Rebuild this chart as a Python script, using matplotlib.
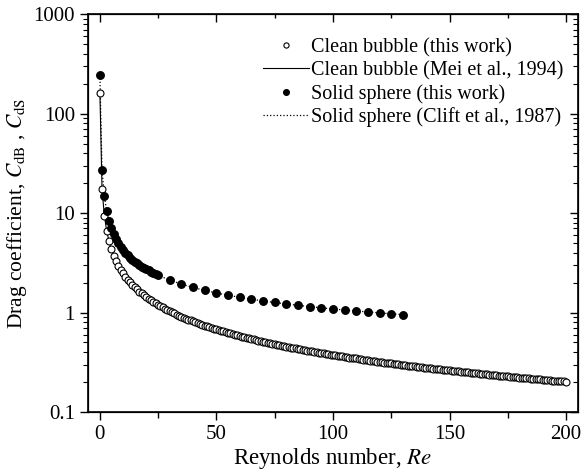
import matplotlib
matplotlib.use("Agg")
import matplotlib.pyplot as plt
from matplotlib.ticker import MultipleLocator, LogLocator, NullFormatter, FixedFormatter, FixedLocator

plt.rcParams['font.family'] = ['Liberation Serif', 'DejaVu Serif']
plt.rcParams['mathtext.fontset'] = 'stix'

# clean bubble, this work / Mei et al. (1994): Re = 0.1, then 1..200
re_bubble = [0.1] + list(range(1, 201))
cd_bubble = [161.9,
             17.57, 9.41, 6.63, 5.20, 4.33, 3.73, 3.29, 2.96, 2.69, 2.48,
             2.297, 2.144, 2.012, 1.898, 1.797, 1.707, 1.627, 1.555, 1.489, 1.430,
             1.375, 1.325, 1.279, 1.236, 1.196, 1.159, 1.124, 1.091, 1.061, 1.032,
             1.005, 0.979, 0.955, 0.932, 0.910, 0.890, 0.870, 0.851, 0.833, 0.816,
             0.799, 0.784, 0.768, 0.754, 0.740, 0.727, 0.714, 0.701, 0.689, 0.678,
             0.667, 0.656, 0.6455, 0.635, 0.6256, 0.616, 0.6071, 0.598, 0.5897, 0.581,
             0.5733, 0.566, 0.5579, 0.550, 0.5433, 0.536, 0.5294, 0.523, 0.5163, 0.510,
             0.5039, 0.498, 0.4920, 0.486, 0.4806, 0.475, 0.4699, 0.465, 0.4596, 0.455,
             0.4497, 0.445, 0.4405, 0.436, 0.4314, 0.427, 0.4228, 0.419, 0.4147, 0.411,
             0.4066, 0.403, 0.3989, 0.395, 0.3916, 0.388, 0.3845, 0.381, 0.3778, 0.375,
             0.3713, 0.368, 0.3649, 0.362, 0.3589, 0.356, 0.3529, 0.350, 0.3473, 0.345,
             0.3417, 0.339, 0.3365, 0.334, 0.3312, 0.329, 0.3264, 0.324, 0.3215, 0.319,
             0.3166, 0.314, 0.3122, 0.310, 0.3077, 0.306, 0.3034, 0.301, 0.2992, 0.297,
             0.2951, 0.293, 0.2912, 0.289, 0.2873, 0.286, 0.2837, 0.282, 0.2800, 0.278,
             0.2765, 0.275, 0.2730, 0.271, 0.2695, 0.268, 0.2662, 0.265, 0.2632, 0.262,
             0.2601, 0.259, 0.2570, 0.256, 0.2539, 0.253, 0.2510, 0.250, 0.2482, 0.247,
             0.2455, 0.244, 0.2428, 0.241, 0.2402, 0.239, 0.2375, 0.236, 0.2350, 0.234,
             0.2326, 0.231, 0.2301, 0.229, 0.2276, 0.227, 0.2254, 0.224, 0.2231, 0.222,
             0.2209, 0.220, 0.2186, 0.218, 0.2166, 0.216, 0.2145, 0.213, 0.2125, 0.211,
             0.2104, 0.209, 0.2084, 0.207, 0.2065, 0.206, 0.2045, 0.204, 0.2026, 0.202]

# solid sphere, this work / Clift et al. (1987)
re_sphere = [0.1, 1, 2, 3, 4, 5, 6, 7, 8, 9, 10, 11, 12, 13, 14, 15, 16, 17, 18, 19, 20,
             21, 22, 23, 24, 25, 30, 35, 40, 45, 50, 55, 60, 65, 70, 75, 80, 85, 90,
             95, 100, 105, 110, 115, 120, 125, 130]
cd_sphere = [244.3, 27.16, 14.76, 10.52, 8.36, 7.03, 6.13, 5.48, 4.98, 4.58, 4.26, 3.99, 3.76, 3.57, 3.40,
             3.25, 3.12, 3.00, 2.90, 2.80, 2.715, 2.651, 2.573, 2.502, 2.435, 2.374, 2.122, 1.934, 1.788,
             1.671, 1.574, 1.493, 1.423, 1.362, 1.309, 1.262, 1.220, 1.182, 1.147, 1.116, 1.087, 1.060,
             1.036, 1.013, 0.992, 0.972, 0.953]

fig = plt.figure(figsize=(5.81, 4.73), dpi=100)
ax = fig.add_axes([0.1515, 0.129, 0.843, 0.841])

ax.plot(re_bubble, cd_bubble, 'o', mfc='white', mec='black', ms=5.0, mew=0.8,
        label='Clean bubble (this work)', zorder=3)
ax.plot(re_bubble, cd_bubble, '-', color='black', lw=0.8,
        label='Clean bubble (Mei et al., 1994)', zorder=2)
ax.plot(re_sphere, cd_sphere, 'o', mfc='black', mec='black', ms=5.4,
        label='Solid sphere (this work)', zorder=3)
ax.plot(re_sphere, cd_sphere, ':', color='black', lw=0.9,
        label='Solid sphere (Clift et al., 1987)', zorder=2)

ax.set_yscale('log')
ax.set_xlim(-5, 205)
ax.set_ylim(0.1, 1000)
ax.xaxis.set_major_locator(MultipleLocator(50))
ax.xaxis.set_minor_locator(MultipleLocator(25))
ax.yaxis.set_major_locator(FixedLocator([0.1, 1, 10, 100, 1000]))
ax.yaxis.set_major_formatter(FixedFormatter(['0.1', '1', '10', '100', '1000']))
ax.yaxis.set_minor_locator(LogLocator(base=10, subs=range(2, 10)))
ax.yaxis.set_minor_formatter(NullFormatter())

ax.tick_params(axis='both', which='major', direction='out', length=6, width=1, labelsize=15,
               top=False, right=False)
ax.tick_params(axis='x', which='minor', direction='out', length=4, width=1, top=False)
ax.tick_params(axis='y', which='minor', direction='out', length=3.5, width=0.8, right=False)
for sp in ax.spines.values():
    sp.set_linewidth(1.2)

# top and right axes carry inward ticks
axt = ax.twiny()
axt.set_xlim(ax.get_xlim())
axt.xaxis.set_major_locator(MultipleLocator(50))
axt.xaxis.set_minor_locator(MultipleLocator(25))
axt.tick_params(axis='x', which='major', direction='in', length=6, width=1, labeltop=False)
axt.tick_params(axis='x', which='minor', direction='in', length=3, width=1)
axr = ax.twinx()
axr.set_yscale('log')
axr.set_ylim(ax.get_ylim())
axr.yaxis.set_major_locator(FixedLocator([0.1, 1, 10, 100, 1000]))
axr.yaxis.set_minor_locator(LogLocator(base=10, subs=range(2, 10)))
axr.tick_params(axis='y', which='major', direction='in', length=6, width=1, labelright=False)
axr.tick_params(axis='y', which='minor', direction='in', length=3.5, width=0.8, labelright=False)
axr.yaxis.set_minor_formatter(NullFormatter())

ax.set_xlabel(r'Reynolds number, $\mathit{Re}$', fontsize=16.5, labelpad=1)
ax.set_ylabel(r'Drag coefficient, $\mathit{C}_{\mathrm{dB}}$ , $\mathit{C}_{\mathrm{dS}}$',
              fontsize=15.5, labelpad=3)

ax.legend(loc='upper right', bbox_to_anchor=(1.0, 0.975), frameon=False, fontsize=14.5,
          handlelength=2.3, handletextpad=0.1, labelspacing=0.18, markerscale=0.75,
          borderaxespad=0.3)

fig.savefig('out.png', dpi=100)
